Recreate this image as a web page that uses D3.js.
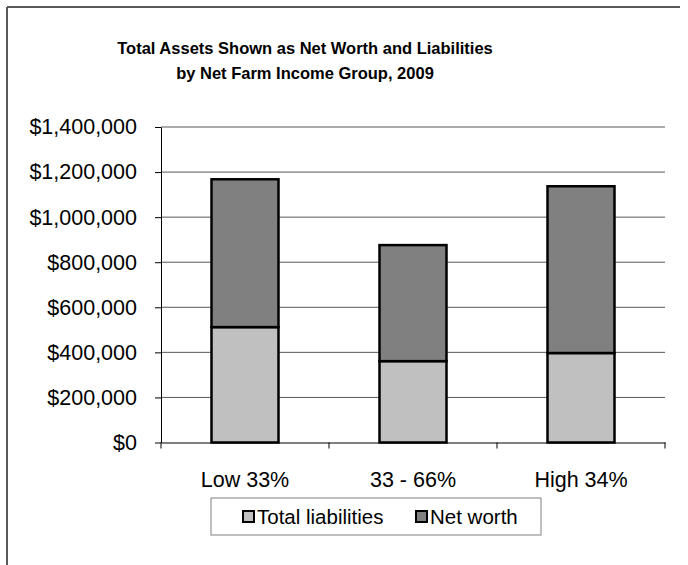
<!DOCTYPE html>
<html>
<head>
<meta charset="utf-8">
<script src="https://cdn.jsdelivr.net/npm/d3@7"></script>
<style>
  body { margin: 0; background: #fff; }
  svg { display: block; font-family: "Liberation Sans", Arial, sans-serif; }
</style>
</head>
<body>
<div id="chart"></div>
<script>
// data
var categories = ["Low 33%", "33 - 66%", "High 34%"];
var liabilities = [512000, 361000, 397000];
var netWorth = [656000, 515000, 740000];
var yTicks = [0, 200000, 400000, 600000, 800000, 1000000, 1200000, 1400000];
var seriesNames = ["Total liabilities", "Net worth"];
var seriesColors = ["#c0c0c0", "#808080"];

var svg = d3.select("#chart")
    .append("svg")
    .attr("width", 688)
    .attr("height", 565);

// outer frame (only top and left edges visible)
svg.append("line").attr("x1", 7).attr("y1", 7).attr("x2", 680).attr("y2", 7)
    .style("stroke", "#595959").style("stroke-width", 2);
svg.append("line").attr("x1", 7).attr("y1", 7).attr("x2", 7).attr("y2", 565)
    .style("stroke", "#595959").style("stroke-width", 2);

// title
var title = svg.append("text")
    .attr("text-anchor", "middle")
    .style("font-weight", "bold")
    .style("font-size", "16.5px");
title.append("tspan").attr("x", 305).attr("y", 54).text("Total Assets Shown as Net Worth and Liabilities");
title.append("tspan").attr("x", 305).attr("y", 79).text("by Net Farm Income Group, 2009");

var plotL = 161, plotR = 665, plotT = 127, plotB = 442.5;

var xScale = d3.scaleBand().domain(categories).range([plotL, plotR]);
var yScale = d3.scaleLinear().domain([0, 1400000]).range([plotB, plotT]);

// gridlines
svg.append("g")
    .selectAll("line")
    .data(yTicks.filter(function(d) { return d > 0; }))
    .enter()
    .append("line")
    .attr("x1", plotL).attr("x2", plotR)
    .attr("y1", function(d) { return yScale(d); })
    .attr("y2", function(d) { return yScale(d); })
    .style("stroke", "#595959")
    .style("stroke-width", 1);

// y axis
var yAxis = svg.append("g")
    .attr("transform", "translate(" + plotL + ",0)")
    .call(d3.axisLeft(yScale)
        .tickValues(yTicks)
        .tickSize(6)
        .tickSizeOuter(0)
        .tickPadding(18)
        .tickFormat(function(d) { return "$" + d3.format(",")(d); }));
yAxis.select(".domain").style("stroke", "#000");
yAxis.selectAll(".tick line").style("stroke", "#000");
yAxis.selectAll("text")
    .style("font-size", "21.5px")
    .style("font-family", "'Liberation Sans', Arial, sans-serif")
    .style("fill", "#000");

// x axis
var xAxis = svg.append("g")
    .attr("transform", "translate(0," + plotB + ")")
    .call(d3.axisBottom(xScale).tickSize(0).tickPadding(29).tickSizeOuter(0));
xAxis.select(".domain").style("stroke", "#000");
xAxis.selectAll("text")
    .style("font-size", "21.5px")
    .style("font-family", "'Liberation Sans', Arial, sans-serif")
    .style("fill", "#000");
// category separator ticks
var sepTicks = [plotL].concat(categories.map(function(c) { return xScale(c) + xScale.bandwidth(); }));
svg.append("g")
    .selectAll("line")
    .data(sepTicks)
    .enter()
    .append("line")
    .attr("x1", function(d) { return d; }).attr("x2", function(d) { return d; })
    .attr("y1", plotB).attr("y2", plotB + 6)
    .style("stroke", "#000");

// stacked bars
var stackData = categories.map(function(c, i) {
    return { cat: c, liab: liabilities[i], net: netWorth[i] };
});
var stack = d3.stack().keys(["liab", "net"]);
var layers = stack(stackData);
var barW = 67;

svg.append("g")
    .selectAll("g")
    .data(layers)
    .enter()
    .append("g")
    .style("fill", function(d, i) { return seriesColors[i]; })
    .selectAll("rect")
    .data(function(d) { return d; })
    .enter()
    .append("rect")
    .attr("x", function(d) { return xScale(d.data.cat) + xScale.bandwidth() / 2 - barW / 2; })
    .attr("y", function(d) { return yScale(d[1]); })
    .attr("width", barW)
    .attr("height", function(d) { return yScale(d[0]) - yScale(d[1]); })
    .style("stroke", "#000")
    .style("stroke-width", 2.5);

// legend
var legend = svg.append("g");
legend.append("rect")
    .attr("x", 211).attr("y", 498)
    .attr("width", 330).attr("height", 37)
    .style("fill", "#fff")
    .style("stroke", "#808080")
    .style("stroke-width", 1);
var legendX = [243, 416];
seriesNames.forEach(function(name, i) {
    legend.append("rect")
        .attr("x", legendX[i]).attr("y", 511)
        .attr("width", 11).attr("height", 11)
        .style("fill", seriesColors[i])
        .style("stroke", "#000")
        .style("stroke-width", 2);
    legend.append("text")
        .attr("x", legendX[i] + 14).attr("y", 524)
        .style("font-size", "20.5px")
        .text(name);
});
</script>
</body>
</html>
